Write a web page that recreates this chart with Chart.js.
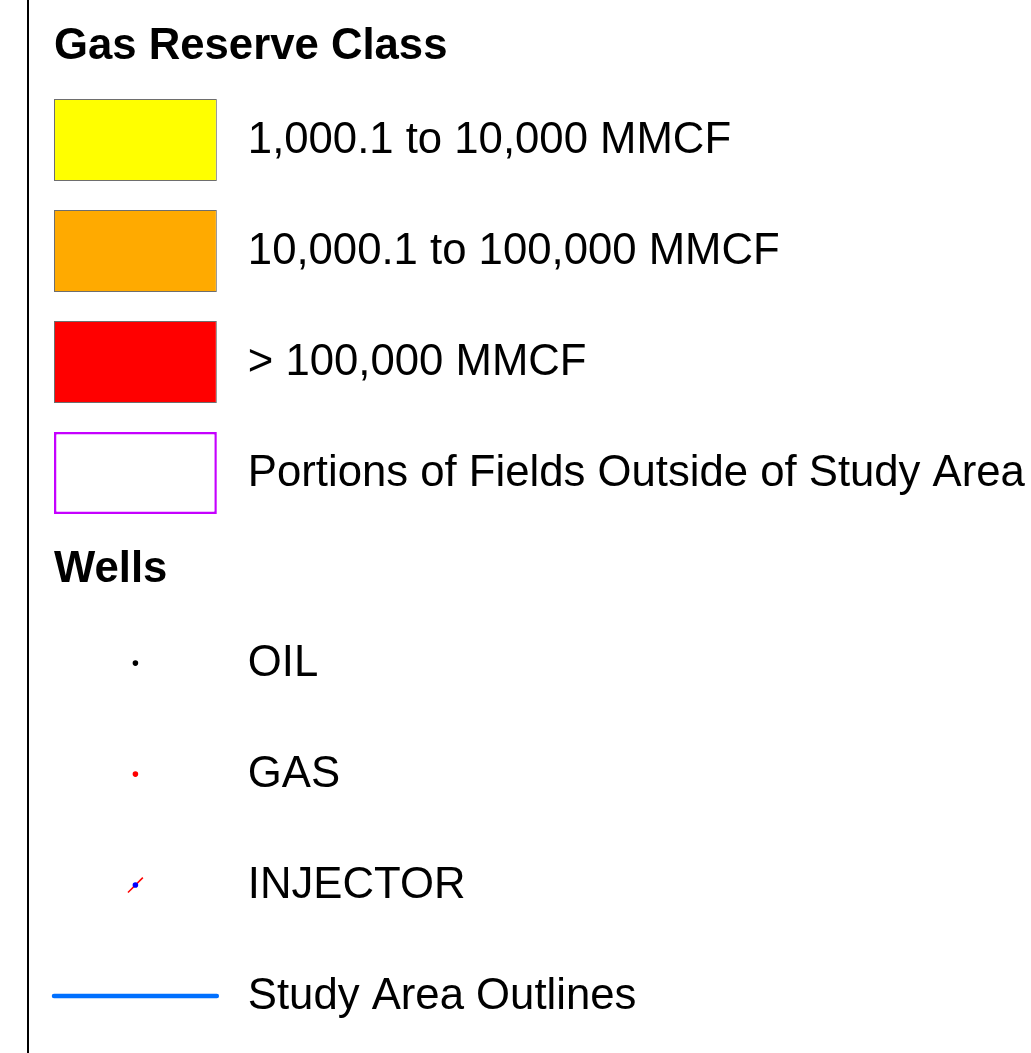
<!DOCTYPE html>
<html>
<head>
<meta charset="utf-8">
<title>Gas Reserve Class</title>
<script src="https://cdn.jsdelivr.net/npm/chart.js@4.4.1/dist/chart.umd.min.js"></script>
<style>
  html, body { margin: 0; padding: 0; background: #fff; }
  #page { position: relative; width: 1031px; height: 1053px; overflow: hidden; }
  #frame { position: absolute; left: 27px; top: 0; width: 2px; height: 1053px; background: #000; }
  canvas { position: absolute; left: 0; }
  #gasChart { top: 0; }
  #wellChart { top: 523px; }
</style>
</head>
<body>
<div id="page">
  <div id="frame"></div>
  <canvas id="gasChart" width="1031" height="530"></canvas>
  <canvas id="wellChart" width="1031" height="530"></canvas>
</div>
<script>
'use strict';

// legend content
let gasTitle = 'Gas Reserve Class';
let gasClasses = [
  '1,000.1 to 10,000 MMCF',
  '10,000.1 to 100,000 MMCF',
  '> 100,000 MMCF',
  'Portions of Fields Outside of Study Area'
];

let wellTitle = 'Wells';
let wellTypes = ['OIL', 'GAS', 'INJECTOR', 'Study Area Outlines'];
let wellSymbols = ['OIL', 'GAS', 'INJECTOR'];

// colours
let gasFill = ['#ffff00', '#ffaa00', '#ff0000', '#ffffff'];
let gasOutline = ['#6e6e6e', '#6e6e6e', '#6e6e6e', '#c500ff'];
let gasOutlineWidth = [1, 1, 1, 2.5];
let wellColors = ['#000000', '#ff0000', '#0000ff'];
let outlineColor = '#0070ff';

let fontFamily = '"Liberation Sans", Arial, sans-serif';
let fontSize = 43.7;

// draws each row's label to the right of its swatch
let rowLabels = {
  id: 'rowLabels',
  afterDatasetsDraw(chart) {
    let ctx = chart.ctx;
    let xAxis = chart.scales.x;
    let yAxis = chart.scales.y;
    let textX = xAxis.getPixelForValue(1) + 31;
    ctx.save();
    ctx.font = fontSize + 'px ' + fontFamily;
    ctx.fillStyle = '#000';
    ctx.textAlign = 'left';
    ctx.textBaseline = 'middle';
    yAxis.getLabels().forEach((label, i) => {
      ctx.fillText(label, textX, yAxis.getPixelForValue(i) + 0.5);
    });
    ctx.restore();
  }
};

function legendOptions(title, rows) {
  return {
    responsive: false,
    animation: false,
    events: [],
    layout: { autoPadding: false, padding: { left: 54, right: 0, top: 0, bottom: 1.5 } },
    plugins: {
      legend: { display: false },
      tooltip: { enabled: false },
      title: {
        display: true,
        text: title,
        align: 'start',
        color: '#000',
        font: { family: fontFamily, size: fontSize, weight: 'bold' },
        padding: { top: 21.1, bottom: 11.1 }
      }
    },
    scales: {
      x: { type: 'linear', min: 0, max: 6, display: false },
      y: { type: 'category', labels: rows, offset: true, display: false }
    }
  };
}

// gas reserve classes: one swatch per row
let gasOptions = legendOptions(gasTitle, gasClasses);
gasOptions.indexAxis = 'y';

new Chart(document.getElementById('gasChart'), {
  type: 'bar',
  data: {
    labels: gasClasses,
    datasets: [{
      data: gasClasses.map(() => [0, 1]),
      backgroundColor: gasFill,
      borderColor: gasOutline,
      borderWidth: gasOutlineWidth,
      borderSkipped: false,
      inflateAmount: 0,
      barThickness: 82
    }]
  },
  options: gasOptions,
  plugins: [rowLabels]
});

// wells: point symbols plus the study area line
new Chart(document.getElementById('wellChart'), {
  type: 'scatter',
  data: {
    datasets: [
      {
        data: wellSymbols.map(name => ({ x: 0.5, y: name })),
        pointBackgroundColor: wellColors,
        pointBorderWidth: 0,
        pointRadius: 2.8
      },
      {
        // injector tail
        data: [{ x: 0.5, y: 'INJECTOR' }],
        pointStyle: 'line',
        rotation: -45,
        pointRadius: 10.5,
        pointBorderColor: '#ff0000',
        pointBorderWidth: 1.5
      },
      {
        data: [{ x: 0, y: 'Study Area Outlines' }, { x: 1, y: 'Study Area Outlines' }],
        showLine: true,
        borderColor: outlineColor,
        borderWidth: 4.5,
        borderCapStyle: 'round',
        pointRadius: 0,
        clip: false
      }
    ]
  },
  options: legendOptions(wellTitle, wellTypes),
  plugins: [rowLabels]
});
</script>
</body>
</html>
